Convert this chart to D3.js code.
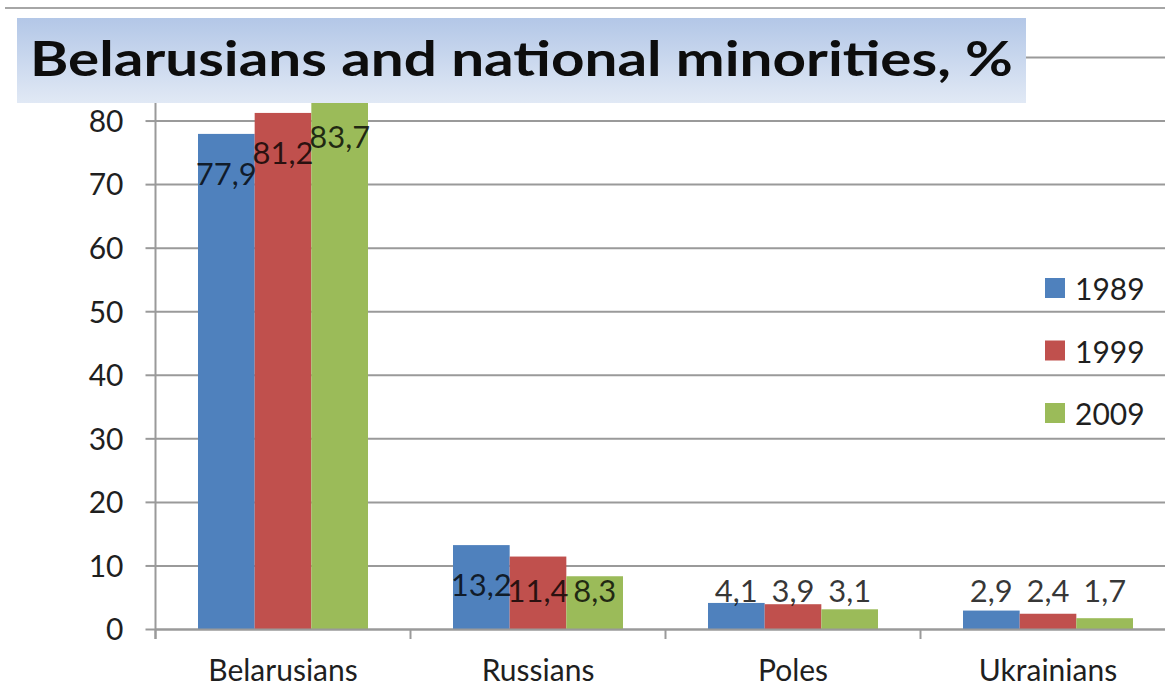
<!DOCTYPE html>
<html>
<head>
<meta charset="utf-8">
<script src="https://cdn.jsdelivr.net/npm/d3@7"></script>
<style>
  body { margin: 0; background: #fff; }
  text { font-family: Lato, "Open Sans", sans-serif; }
</style>
</head>
<body>
<svg id="chart" width="1165" height="686"></svg>
<script>
var categories = ["Belarusians", "Russians", "Poles", "Ukrainians"];
var years = ["1989", "1999", "2009"];
var v1989 = [77.9, 13.2, 4.1, 2.9];
var v1999 = [81.2, 11.4, 3.9, 2.4];
var v2009 = [83.7, 8.3, 3.1, 1.7];
var yTicks = [0, 10, 20, 30, 40, 50, 60, 70, 80];
var gridTicks = [0, 10, 20, 30, 40, 50, 60, 70, 80, 90];
var colors = ["#4F81BD", "#C0504D", "#9BBB59"];
var titleText = "Belarusians and national minorities, %";

var series = [v1989, v1999, v2009];
var rows = [];
categories.forEach(function (c, i) {
  years.forEach(function (yr, j) {
    rows.push({ cat: c, year: yr, value: series[j][i], s: j });
  });
});

var plotLeft = 155.5, plotRight = 1175.5, plotTop = 57, plotBottom = 629;
var svg = d3.select('#chart');

var x0 = d3.scaleBand().domain(categories).range([plotLeft, plotRight]).padding(0);
var x1 = d3.scaleBand().domain(years).range([0, x0.bandwidth()]).paddingInner(0).paddingOuter(0.75);
var y = d3.scaleLinear().domain([0, 90]).range([plotBottom, plotTop]);
var fmt = function (v) { return d3.format('.1f')(v).replace('.', ','); };

// frame line at very top
svg.append('line')
  .attr('x1', 5).attr('x2', 1165).attr('y1', 8).attr('y2', 8)
  .style('stroke', '#a6a6a6').style('stroke-width', 2);

// gridlines (90 line runs under the title box)
var grid = svg.append('g')
  .attr('transform', 'translate(' + plotLeft + ',0)')
  .call(d3.axisLeft(y).tickValues(gridTicks).tickSize(-(plotRight - plotLeft)).tickFormat(''));
grid.select('.domain').remove();
grid.selectAll('line').style('stroke', '#9a9a9a').style('stroke-width', 2);

// bars
svg.append('g').selectAll('rect')
  .data(rows)
  .enter().append('rect')
  .attr('x', d => x0(d.cat) + x1(d.year))
  .attr('y', d => y(d.value))
  .attr('width', x1.bandwidth())
  .attr('height', d => y(0) - y(d.value))
  .attr('fill', d => colors[d.s]);

// y axis
var yAxis = svg.append('g')
  .attr('transform', 'translate(' + plotLeft + ',0)')
  .call(d3.axisLeft(y).tickValues(yTicks).tickSize(10).tickPadding(22).tickSizeOuter(0));
yAxis.select('.domain').attr('d', 'M0,' + plotTop + 'V' + (plotBottom + 10)).style('stroke', '#9a9a9a').style('stroke-width', 2);
yAxis.selectAll('.tick line').style('stroke', '#9a9a9a').style('stroke-width', 2);
yAxis.selectAll('.tick text')
  .style('font-size', '30px').style('fill', '#1f1f1f')
  .attr('dy', '0.36em');

// x axis baseline + boundary ticks
var xAxis = svg.append('g')
  .attr('transform', 'translate(0,' + plotBottom + ')')
  .call(d3.axisBottom(x0).tickSize(0).tickSizeOuter(0));
xAxis.select('.domain').style('stroke', '#9a9a9a').style('stroke-width', 2);
xAxis.selectAll('.tick text')
  .attr('y', 52).attr('dy', 0)
  .style('font-size', '30px').style('fill', '#1f1f1f');
svg.append('g').selectAll('line')
  .data(categories)
  .enter().append('line')
  .attr('x1', d => x0(d)).attr('x2', d => x0(d))
  .attr('y1', plotBottom).attr('y2', plotBottom + 10)
  .style('stroke', '#9a9a9a').style('stroke-width', 2);

// data labels
svg.append('g').selectAll('text')
  .data(rows)
  .enter().append('text')
  .attr('x', d => x0(d.cat) + x1(d.year) + x1.bandwidth() / 2)
  .attr('y', d => Math.min(y(d.value) + 39, y(0) - 39))
  .attr('text-anchor', 'middle')
  .attr('dominant-baseline', 'central')
  .style('font-size', '31px')
  .style('fill', '#000').style('fill-opacity', 0.78)
  .text(d => fmt(d.value));

// legend
var legend = svg.append('g').selectAll('g')
  .data(years)
  .enter().append('g')
  .attr('transform', (d, i) => 'translate(1045,' + (288 + i * 62.5) + ')');
legend.append('rect')
  .attr('x', 0).attr('y', -10).attr('width', 20).attr('height', 20)
  .attr('fill', (d, i) => colors[i]);
legend.append('text')
  .attr('x', 30).attr('y', 0)
  .attr('dominant-baseline', 'central')
  .style('font-size', '30px').style('fill', '#1f1f1f')
  .text(d => d);

// title box
var grad = svg.append('defs').append('linearGradient')
  .attr('id', 'tg').attr('x1', 0).attr('y1', 0).attr('x2', 0).attr('y2', 1);
grad.append('stop').attr('offset', '0%').attr('stop-color', '#b3c7e7');
grad.append('stop').attr('offset', '100%').attr('stop-color', '#e1e9f5');
svg.append('rect')
  .attr('x', 17).attr('y', 18).attr('width', 1009).attr('height', 85)
  .attr('fill', 'url(#tg)');
svg.append('text')
  .attr('x', 30).attr('y', 76)
  .attr('textLength', 983).attr('lengthAdjust', 'spacingAndGlyphs')
  .style('font-size', '48px').style('font-weight', 'bold').style('fill', '#0d0d0d')
  .text(titleText);
</script>
</body>
</html>
